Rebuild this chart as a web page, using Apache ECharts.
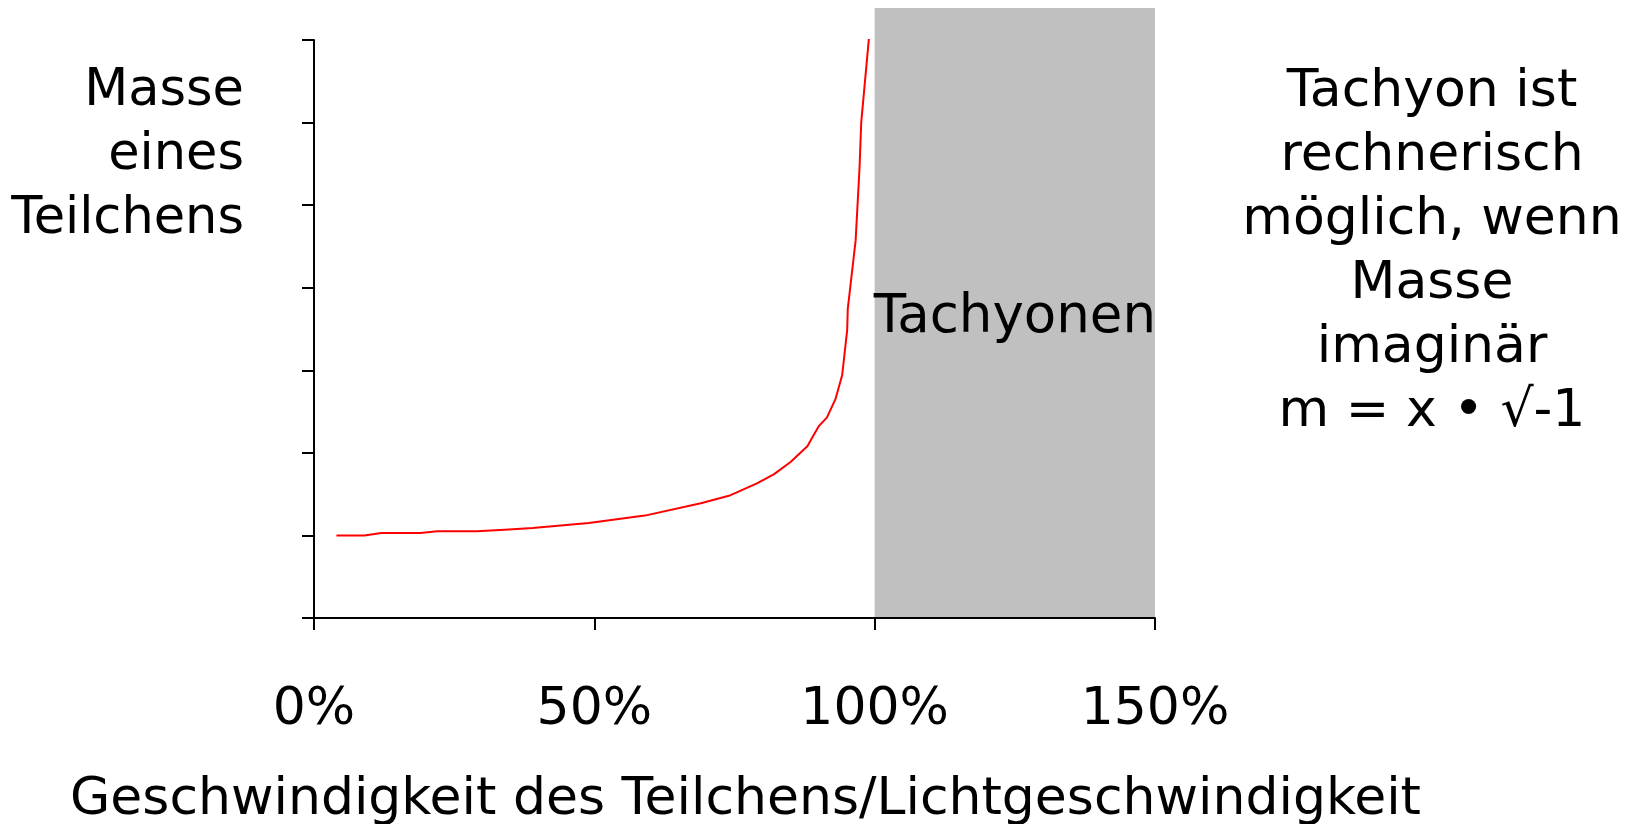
<!DOCTYPE html>
<html>
<head>
<meta charset="utf-8">
<script src="https://cdn.jsdelivr.net/npm/echarts@6/dist/echarts.min.js"></script>
<style>
  html, body { margin: 0; padding: 0; background: #fff; }
  #main { width: 1637px; height: 824px; }
</style>
</head>
<body>
<div id="main"></div>
<script>
// Geschwindigkeit in % der Lichtgeschwindigkeit
const speed = [4, 9, 12, 19, 22, 29, 34, 39, 44, 49, 59, 69, 74, 79, 82, 85, 88, 89, 90, 91.5, 93, 94.2, 95.1, 95.2, 96.6, 97.3, 97.6, 99];
// relative Masse des Teilchens
const mass = [1.0, 1.0, 1.03, 1.03, 1.05, 1.05, 1.07, 1.09, 1.12, 1.15, 1.24, 1.39, 1.48, 1.63, 1.74, 1.89, 2.08, 2.2, 2.32, 2.43, 2.65, 2.94, 3.49, 3.74, 4.57, 5.45, 6.0, 7.04];
// Tachyonen-Bereich (Geschwindigkeit > Licht)
const tachyonRange = [100, 150];
const xTicks = [0, 50, 100, 150];

const font = 'DejaVu Sans';
const myChart = echarts.init(document.getElementById('main'));

myChart.setOption({
    animation: false,
    backgroundColor: '#fff',
    grid: [
        { left: 314, right: 482, top: 40, bottom: 206, outerBoundsMode: 'none', containLabel: false },
        { left: 314, right: 482, top: 8, bottom: 207, outerBoundsMode: 'none', containLabel: false }
    ],
    xAxis: [{
        type: 'value',
        gridIndex: 0,
        min: xTicks[0],
        max: xTicks[xTicks.length - 1],
        interval: 50,
        name: 'Geschwindigkeit des Teilchens/Lichtgeschwindigkeit',
        nameLocation: 'middle',
        nameGap: 156,
        nameTextStyle: { fontFamily: font, fontSize: 52, color: '#000', padding: [0, 0, 0, 22] },
        axisLine: { lineStyle: { color: '#000', width: 2 } },
        axisTick: { length: 12, lineStyle: { color: '#000', width: 2 } },
        axisLabel: {
            margin: 66,
            formatter: '{value}%',
            fontFamily: font,
            fontSize: 52,
            color: '#000'
        },
        splitLine: { show: false }
    }, {
        type: 'value',
        gridIndex: 1,
        min: xTicks[0],
        max: xTicks[xTicks.length - 1],
        show: false
    }],
    yAxis: [{
        type: 'value',
        gridIndex: 0,
        min: 0,
        max: 7,
        interval: 1,
        axisLine: { show: true, lineStyle: { color: '#000', width: 2 } },
        axisTick: { show: true, length: 12, lineStyle: { color: '#000', width: 2 } },
        axisLabel: { show: false },
        splitLine: { show: false }
    }, {
        type: 'value',
        gridIndex: 1,
        min: 0,
        max: 1,
        show: false
    }],
    series: [{
        name: 'Tachyonen',
        type: 'line',
        xAxisIndex: 1,
        yAxisIndex: 1,
        z: 0,
        data: [],
        markArea: {
            silent: true,
            itemStyle: { color: '#c0c0c0' },
            label: {
                show: true,
                position: 'inside',
                offset: [0, 6],
                fontFamily: font,
                fontSize: 53,
                color: '#000'
            },
            data: [[
                { name: 'Tachyonen', xAxis: tachyonRange[0] },
                { xAxis: tachyonRange[1] }
            ]]
        }
    }, {
        name: 'Masse',
        type: 'line',
        xAxisIndex: 0,
        yAxisIndex: 0,
        z: 3,
        showSymbol: false,
        lineStyle: { color: '#ff0000', width: 2 },
        data: speed.map((v, i) => [v, mass[i]])
    }],
    graphic: [{
        type: 'text',
        x: 244,
        y: 60,
        style: {
            text: 'Masse\neines\nTeilchens',
            align: 'right',
            verticalAlign: 'top',
            fontFamily: font,
            fontSize: 51,
            lineHeight: 64,
            fill: '#000'
        }
    }, {
        type: 'text',
        x: 1432,
        y: 60,
        style: {
            text: 'Tachyon ist\nrechnerisch\nmöglich, wenn\nMasse\nimaginär\nm = x • √-1',
            align: 'center',
            verticalAlign: 'top',
            fontFamily: font,
            fontSize: 52,
            lineHeight: 64,
            fill: '#000'
        }
    }]
});
</script>
</body>
</html>
